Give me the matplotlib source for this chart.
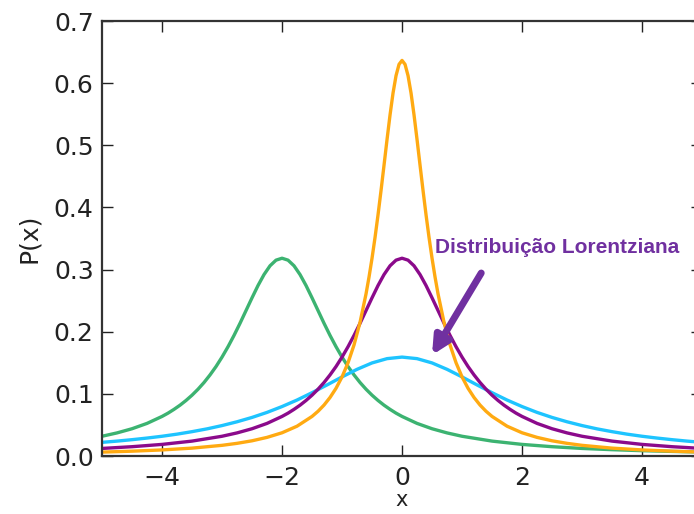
import matplotlib
matplotlib.use('Agg')
import matplotlib.pyplot as plt

# values, each curve with its own x positions
# orange: narrow peak at 0
orange_x = [-5, -4.5, -4, -3.5, -3, -2.75, -2.5, -2.25, -2, -1.75, -1.5, -1.4, -1.3, -1.2,
            -1.1, -1, -0.9, -0.8, -0.7, -0.6, -0.55, -0.5, -0.45, -0.4, -0.35, -0.3,
            -0.25, -0.2, -0.15, -0.1, -0.05, 0, 0.05, 0.1, 0.15, 0.2, 0.25, 0.3, 0.35,
            0.4, 0.45, 0.5, 0.55, 0.6, 0.7, 0.8, 0.9, 1, 1.1, 1.2, 1.3, 1.4, 1.5, 1.75,
            2, 2.25, 2.5, 2.75, 3, 3.5, 4, 4.5, 5]
orange_y = [0.0063, 0.0078, 0.0098, 0.0127, 0.0172, 0.0204, 0.0245, 0.0300, 0.0374, 0.0480,
            0.0637, 0.0720, 0.0820, 0.0942, 0.1090, 0.1273, 0.1501, 0.1788, 0.2151, 0.2609,
            0.2881, 0.3183, 0.3517, 0.3882, 0.4273, 0.4681, 0.5093, 0.5488, 0.5841, 0.6121,
            0.6303, 0.6366, 0.6303, 0.6121, 0.5841, 0.5488, 0.5093, 0.4681, 0.4273, 0.3882,
            0.3517, 0.3183, 0.2881, 0.2609, 0.2151, 0.1788, 0.1501, 0.1273, 0.1090, 0.0942,
            0.0820, 0.0720, 0.0637, 0.0480, 0.0374, 0.0300, 0.0245, 0.0204, 0.0172, 0.0127,
            0.0098, 0.0078, 0.0063]

# purple: medium peak at 0
purple_x = [-5, -4.5, -4, -3.5, -3, -2.75, -2.5, -2.25, -2, -1.9, -1.8, -1.7, -1.6, -1.5,
            -1.4, -1.3, -1.2, -1.1, -1, -0.9, -0.8, -0.7, -0.6, -0.5, -0.4, -0.3, -0.2,
            -0.1, 0, 0.1, 0.2, 0.3, 0.4, 0.5, 0.6, 0.7, 0.8, 0.9, 1, 1.1, 1.2, 1.3, 1.4,
            1.5, 1.6, 1.7, 1.8, 1.9, 2, 2.25, 2.5, 2.75, 3, 3.5, 4, 4.5, 5]
purple_y = [0.0122, 0.0150, 0.0187, 0.0240, 0.0318, 0.0372, 0.0439, 0.0525, 0.0637, 0.0690,
            0.0751, 0.0818, 0.0894, 0.0979, 0.1075, 0.1183, 0.1305, 0.1440, 0.1592, 0.1759,
            0.1941, 0.2136, 0.2341, 0.2546, 0.2744, 0.2920, 0.3061, 0.3152, 0.3183, 0.3152,
            0.3061, 0.2920, 0.2744, 0.2546, 0.2341, 0.2136, 0.1941, 0.1759, 0.1592, 0.1440,
            0.1305, 0.1183, 0.1075, 0.0979, 0.0894, 0.0818, 0.0751, 0.0690, 0.0637, 0.0525,
            0.0439, 0.0372, 0.0318, 0.0240, 0.0187, 0.0150, 0.0122]

# cyan: wide, low peak at 0
cyan_x = [-5, -4.75, -4.5, -4.25, -4, -3.75, -3.5, -3.25, -3, -2.75, -2.5, -2.25, -2,
          -1.75, -1.5, -1.25, -1, -0.75, -0.5, -0.25, 0, 0.25, 0.5, 0.75, 1, 1.25, 1.5,
          1.75, 2, 2.25, 2.5, 2.75, 3, 3.25, 3.5, 3.75, 4, 4.25, 4.5, 4.75, 5]
cyan_y = [0.0220, 0.0240, 0.0263, 0.0289, 0.0318, 0.0352, 0.0392, 0.0437, 0.0490, 0.0551,
          0.0621, 0.0702, 0.0796, 0.0901, 0.1019, 0.1144, 0.1273, 0.1395, 0.1498, 0.1567,
          0.1592, 0.1567, 0.1498, 0.1395, 0.1273, 0.1144, 0.1019, 0.0901, 0.0796, 0.0702,
          0.0621, 0.0551, 0.0490, 0.0437, 0.0392, 0.0352, 0.0318, 0.0289, 0.0263, 0.0240,
          0.0220]

# green: peak at -2
green_x = [-5, -4.75, -4.5, -4.25, -4, -3.9, -3.8, -3.7, -3.6, -3.5, -3.4, -3.3, -3.2,
           -3.1, -3, -2.9, -2.8, -2.7, -2.6, -2.5, -2.4, -2.3, -2.2, -2.1, -2, -1.9, -1.8,
           -1.7, -1.6, -1.5, -1.4, -1.3, -1.2, -1.1, -1, -0.9, -0.8, -0.7, -0.6, -0.5,
           -0.4, -0.3, -0.2, -0.1, 0, 0.25, 0.5, 0.75, 1, 1.5, 2, 2.5, 3, 3.5, 4, 4.5, 5]
green_y = [0.0318, 0.0372, 0.0439, 0.0525, 0.0637, 0.0690, 0.0751, 0.0818, 0.0894, 0.0979,
           0.1075, 0.1183, 0.1305, 0.1440, 0.1592, 0.1759, 0.1941, 0.2136, 0.2341, 0.2546,
           0.2744, 0.2920, 0.3061, 0.3152, 0.3183, 0.3152, 0.3061, 0.2920, 0.2744, 0.2546,
           0.2341, 0.2136, 0.1941, 0.1759, 0.1592, 0.1440, 0.1305, 0.1183, 0.1075, 0.0979,
           0.0894, 0.0818, 0.0751, 0.0690, 0.0637, 0.0525, 0.0439, 0.0372, 0.0318, 0.0240,
           0.0187, 0.0150, 0.0122, 0.0102, 0.0086, 0.0074, 0.0064]

xticks = [-4, -2, 0, 2, 4]
yticks = [0.0, 0.1, 0.2, 0.3, 0.4, 0.5, 0.6, 0.7]

fig = plt.figure(figsize=(6.94, 5.14), dpi=100)
# right edge of the axes sits just past the picture, as in the reference
ax = fig.add_axes([0.147, 0.1128, 0.8646, 0.8463])

ax.plot(green_x, green_y, color='#3cb371', lw=2.4)
ax.plot(cyan_x, cyan_y, color='#1ec4ff', lw=2.4)
ax.plot(purple_x, purple_y, color='#8b0a8b', lw=2.4)
ax.plot(orange_x, orange_y, color='#ffaa12', lw=2.4)

ax.set_xlim(-5, 5)
ax.set_ylim(0, 0.7)
ax.set_xticks(xticks)
ax.set_yticks(yticks)
ax.set_xticklabels(['\u2212' + str(-t) if t < 0 else str(t) for t in xticks])
ax.set_yticklabels(['%.1f' % t for t in yticks])
ax.tick_params(direction='in', length=8, width=1, top=True, right=True,
               labelsize=18, colors='#222222')
ax.tick_params(axis='x', pad=7)
ax.tick_params(axis='y', pad=6)
for s in ax.spines.values():
    s.set_linewidth(1.6)
    s.set_color('#333333')

ax.set_xlabel('x', fontsize=15, color='#222222', labelpad=0.5)
ax.set_ylabel('P(x)', fontsize=18, color='#222222', labelpad=9)

ax.text(0.55, 0.336, 'Distribuição Lorentziana', color='#7030a0', fontsize=15,
        fontweight='bold', family='Liberation Sans', va='center', ha='left')
ax.annotate('', xy=(0.5, 0.1625), xytext=(1.32, 0.2945),
            arrowprops=dict(arrowstyle='-|>', color='#7030a0', lw=5,
                            mutation_scale=26, shrinkA=0, shrinkB=0))

fig.savefig('out.png', dpi=100)
plt.close(fig)
